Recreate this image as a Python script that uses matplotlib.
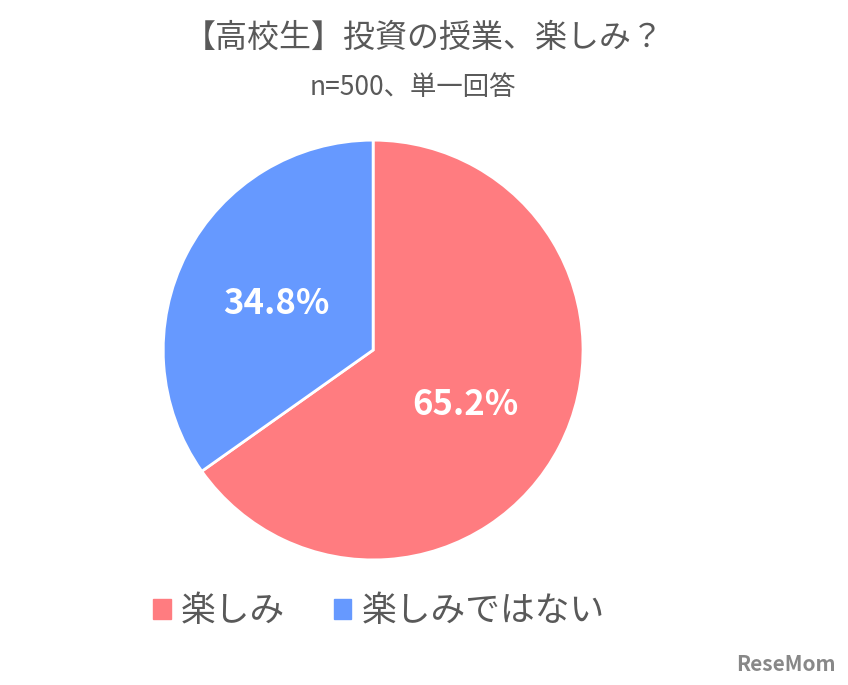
import matplotlib
matplotlib.use("Agg")
import matplotlib.pyplot as plt
from matplotlib.patches import Patch

plt.rcParams['font.family'] = ['Noto Sans CJK JP', 'DejaVu Sans']

labels = ["楽しみ", "楽しみではない"]
values = [65.2, 34.8]
colors = ["#FF7C80", "#6699FF"]
title = "【高校生】投資の授業、楽しみ？"
subtitle = "n=500、単一回答"

fig = plt.figure(figsize=(8.48, 6.85), dpi=100)
ax = fig.add_axes([0.44 - 0.25, 0.489 - 0.3095, 0.5, 0.619])
wedges, _ = ax.pie(values, colors=colors, startangle=90, counterclock=False,
                   wedgeprops=dict(edgecolor="white", linewidth=2))
ax.set_xlim(-1.01, 1.01)
ax.set_ylim(-1.01, 1.01)
ax.set_aspect("equal")
ax.text(0.44, -0.26, f"{values[0]}%", ha="center", va="center", color="white",
        fontsize=25, fontweight="bold")
ax.text(-0.46, 0.22, f"{values[1]}%", ha="center", va="center", color="white",
        fontsize=25, fontweight="bold")

fig.text(0.5, 0.945, title, ha="center", va="center", fontsize=23, color="#595959")
fig.text(0.487, 0.872, subtitle, ha="center", va="center", fontsize=19, color="#595959")

handles = [Patch(color=c) for c in colors]
fig.legend(handles, labels, loc="center", bbox_to_anchor=(0.447, 0.107), ncol=2,
           frameon=False, fontsize=25, labelcolor="#595959",
           handlelength=0.5, handleheight=0.5, columnspacing=1.4, handletextpad=0.3)

fig.text(0.985, 0.03, "ReseMom", ha="right", va="center", fontsize=15,
         fontweight="bold", color="#888888")
fig.savefig("out.png", dpi=100)
